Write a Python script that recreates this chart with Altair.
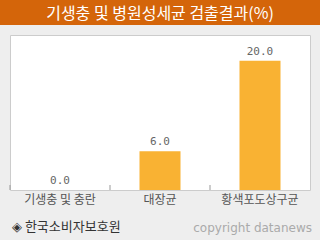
import altair as alt
import pandas as pd

categories = ["기생충 및 충란", "대장균", "황색포도상구균"]
values = [0.0, 6.0, 20.0]
title_text = "기생충 및 병원성세균 검출결과(%)"
source_text = "◈ 한국소비자보호원"
credit_text = "copyright datanews"

df = pd.DataFrame({"cat": categories, "val": values})
one = pd.DataFrame({"t": [title_text], "s": [source_text], "c": [credit_text]})

FONT = "Noto Sans CJK KR"

x = alt.X("cat:N", sort=categories,
          scale=alt.Scale(paddingInner=0, paddingOuter=0),
          axis=alt.Axis(title=None, ticks=False, domain=False, labelAngle=0,
                        labelFont=FONT, labelFontSize=12, labelColor="#555555",
                        labelPadding=4))
y = alt.Y("val:Q", scale=alt.Scale(domain=[0, 24]), axis=None)

bars = alt.Chart(df).mark_bar(size=41, color="#F9B233").encode(x=x, y=y)
labels = alt.Chart(df).mark_text(baseline="bottom", dy=-4, font="DejaVu Sans Mono",
                                 fontSize=11, color="#666666").encode(
    x=x, y=y, text=alt.Text("val:Q", format=".1f"))
ticks = alt.Chart(df).mark_rule(color="#999999").encode(
    x=alt.X("cat:N", sort=categories, bandPosition=0), y=alt.value(150), y2=alt.value(155))

head = alt.Chart(one).mark_rect(color="#D4650A").encode(
    x=alt.value(-10), x2=alt.value(310), y=alt.value(-35), y2=alt.value(-10))
title = alt.Chart(one).mark_text(font=FONT, fontSize=16, color="white",
                                 baseline="middle").encode(
    x=alt.value(150), y=alt.value(-21), text="t:N")
source = alt.Chart(one).mark_text(font=FONT, fontSize=13, color="#333333", align="left",
                                  baseline="middle").encode(
    x=alt.value(2), y=alt.value(192), text="s:N")
credit = alt.Chart(one).mark_text(font="DejaVu Sans", fontSize=12, color="#aaaaaa", align="right",
                                  baseline="middle").encode(
    x=alt.value(302), y=alt.value(193), text="c:N")

chart = alt.layer(head, title, bars, ticks, labels, source, credit).properties(
    width=300, height=155,
    autosize=alt.AutoSizeParams(type="none"),
    padding={"left": 10, "top": 35, "right": 10, "bottom": 50},
    background="#EEEEEE",
).configure_view(fill="white", stroke="#CCCCCC", strokeWidth=1)

chart.save("out.html", embed_options={"renderer": "svg", "actions": False})
